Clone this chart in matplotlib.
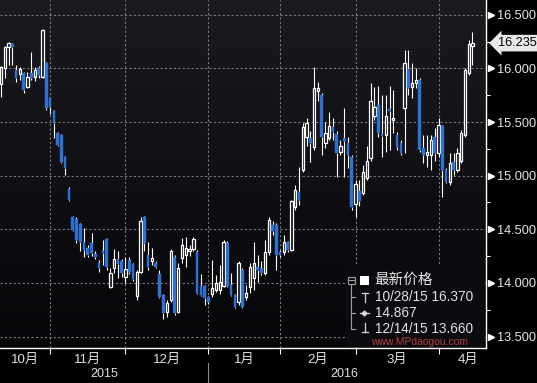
import numpy as np
import matplotlib.pyplot as plt
from matplotlib.patches import Rectangle
from matplotlib.lines import Line2D
from matplotlib.colors import LinearSegmentedColormap
from matplotlib.transforms import blended_transform_factory

# daily candles, mid Oct 2015 to mid Apr 2016 (one per trading day)
opens = [15.85, 16.00, 16.20, 16.23, 15.98, 15.95, 15.96, 15.83, 15.96, 15.92,
         16.00, 15.92, 16.05, 15.72, 15.60, 15.40, 15.38, 15.17, 14.88, 14.61,
         14.60, 14.55, 14.38, 14.33, 14.37, 14.27, 14.19, 14.30, 14.41, 13.96,
         14.14, 14.22, 14.20, 14.06, 14.21, 14.18, 13.88, 14.10, 14.61, 14.26,
         14.20, 14.19, 14.08, 13.89, 13.73, 13.84, 14.24, 13.73, 14.23, 14.26,
         14.30, 14.32, 14.29, 13.97, 13.97, 13.87, 13.90, 13.93, 13.93, 13.97,
         14.37, 13.98, 13.89, 13.82, 14.12, 13.87, 13.96, 14.05, 14.15, 14.14,
         14.09, 14.29, 14.54, 14.54, 14.29, 14.29, 14.38, 14.31, 14.71, 14.85,
         15.05, 15.36, 15.35, 15.27, 15.79, 15.75, 15.30, 15.35, 15.45, 15.39,
         15.22, 15.35, 15.30, 15.17, 14.74, 14.86, 14.84, 14.98, 15.16, 15.56,
         15.66, 15.39, 15.38, 15.62, 15.52, 15.38, 15.30, 15.63, 15.99, 15.83,
         15.86, 15.89, 15.26, 15.19, 15.19, 15.36, 15.21, 15.46, 15.05, 14.94,
         15.13, 15.05, 15.14, 15.38, 15.96, 16.21]
highs = [16.02, 16.21, 16.25, 16.24, 16.03, 16.01, 15.97, 15.97, 16.15, 16.01,
         16.02, 16.37, 16.06, 15.73, 15.61, 15.41, 15.39, 15.18, 14.89, 14.62,
         14.61, 14.56, 14.51, 14.35, 14.47, 14.30, 14.21, 14.40, 14.42, 14.14,
         14.32, 14.30, 14.22, 14.24, 14.24, 14.19, 14.12, 14.61, 14.62, 14.38,
         14.33, 14.20, 14.12, 13.90, 13.84, 14.32, 14.26, 14.19, 14.42, 14.43,
         14.35, 14.43, 14.31, 14.08, 13.98, 13.88, 14.21, 14.07, 14.17, 14.40,
         14.39, 14.09, 13.90, 14.20, 14.14, 13.98, 14.19, 14.38, 14.26, 14.20,
         14.40, 14.61, 14.58, 14.56, 14.31, 14.45, 14.39, 14.77, 14.91, 15.08,
         15.49, 15.54, 15.42, 16.01, 15.87, 15.77, 15.50, 15.59, 15.54, 15.42,
         15.33, 15.63, 15.36, 15.19, 14.96, 14.96, 15.10, 15.28, 15.86, 15.83,
         15.84, 15.75, 15.75, 15.84, 15.80, 15.41, 15.33, 16.17, 16.17, 16.05,
         16.00, 15.91, 15.38, 15.38, 15.38, 15.44, 15.54, 15.47, 15.07, 15.21,
         15.21, 15.26, 15.43, 16.00, 16.26, 16.34]
lows = [15.73, 15.91, 16.03, 16.03, 15.87, 15.89, 15.77, 15.82, 15.89, 15.88,
        15.91, 15.91, 15.61, 15.57, 15.35, 15.28, 15.12, 15.01, 14.76, 14.48,
        14.37, 14.30, 14.24, 14.24, 14.25, 14.22, 14.10, 14.17, 14.12, 13.95,
        14.09, 14.05, 14.06, 14.00, 14.08, 14.02, 13.84, 14.09, 14.30, 14.12,
        14.17, 14.14, 13.86, 13.66, 13.68, 13.82, 13.70, 13.72, 14.19, 14.15,
        14.25, 14.30, 13.90, 13.88, 13.79, 13.80, 13.87, 13.92, 13.90, 13.96,
        13.96, 13.88, 13.77, 13.79, 13.77, 13.84, 13.91, 13.93, 14.01, 14.07,
        14.07, 14.26, 14.45, 14.12, 14.24, 14.26, 14.29, 14.30, 14.68, 14.73,
        15.03, 15.28, 15.13, 15.24, 15.70, 15.19, 15.26, 15.33, 15.33, 14.99,
        15.19, 14.99, 15.07, 14.68, 14.61, 14.72, 14.82, 14.96, 15.14, 15.52,
        15.36, 15.17, 15.22, 15.24, 15.40, 15.24, 15.19, 15.21, 15.75, 15.72,
        15.82, 15.22, 15.12, 15.08, 15.05, 15.14, 15.17, 14.80, 14.93, 14.91,
        15.01, 15.03, 15.12, 15.36, 15.94, 16.03]
closes = [16.01, 16.20, 16.24, 16.20, 15.91, 15.99, 15.80, 15.92, 15.91, 15.98,
          15.94, 16.36, 15.63, 15.64, 15.49, 15.29, 15.13, 15.07, 14.77, 14.49,
          14.40, 14.38, 14.31, 14.26, 14.28, 14.24, 14.14, 14.28, 14.15, 14.09,
          14.22, 14.18, 14.09, 14.13, 14.10, 14.04, 14.10, 14.58, 14.37, 14.15,
          14.23, 14.15, 13.87, 13.72, 13.81, 14.30, 13.72, 14.14, 14.35, 14.33,
          14.32, 14.41, 13.91, 13.89, 13.86, 13.82, 13.95, 14.00, 14.01, 14.38,
          13.97, 13.89, 13.78, 14.19, 13.78, 13.91, 14.15, 14.19, 14.12, 14.09,
          14.29, 14.59, 14.48, 14.26, 14.26, 14.38, 14.31, 14.76, 14.87, 14.77,
          15.45, 15.49, 15.30, 15.82, 15.82, 15.36, 15.40, 15.46, 15.41, 15.21,
          15.28, 15.32, 15.19, 14.71, 14.92, 14.76, 15.03, 15.14, 15.70, 15.64,
          15.40, 15.37, 15.56, 15.60, 15.54, 15.27, 15.21, 16.05, 15.82, 15.86,
          15.89, 15.24, 15.19, 15.22, 15.33, 15.21, 15.47, 15.05, 14.94, 15.12,
          15.05, 15.21, 15.40, 15.98, 16.23, 16.235]

# index of the first trading day of each month (Nov .. Apr)
month_first = [13, 33, 55, 74, 94, 116]
month_names = ['10月', '11月', '12月', '1月', '2月', '3月', '4月']
year_names = ['2015', '2016']
price_levels = [13.5, 14.0, 14.5, 15.0, 15.5, 16.0, 16.5]
minor_levels = [13.75, 14.25, 14.75, 15.25, 15.75, 16.25]
last_price = 16.235
legend_title = '最新价格'
legend_high = '10/28/15 16.370'
legend_avg = '14.867'
legend_low = '12/14/15 13.660'

plt.rcParams['font.family'] = ['Liberation Sans', 'Noto Sans CJK SC', 'DejaVu Sans']

W, H = 537, 383
fig = plt.figure(figsize=(W / 100, H / 100), dpi=100, facecolor='black')
ax = fig.add_axes([0, 1 - 348.3 / H, 485.7 / W, 348.3 / H])

xmin, xmax = -0.27, 128.5
ymin, ymax = 13.391, 16.637

# dark gradient background
bg = LinearSegmentedColormap.from_list('bg', ['#060609', '#1a1a20'])
grad = np.linspace(0, 1, 256).reshape(-1, 1)
ax.imshow(grad, extent=[xmin, xmax, ymin, ymax], aspect='auto', cmap=bg,
          origin='lower', zorder=0)

# dashed grid
ax.hlines(price_levels, xmin, xmax, colors='#7a7a7a', linestyles=(0, (2, 2)),
          lw=0.8, zorder=1)
ax.vlines(month_first, ymin, ymax, colors='#7a7a7a', linestyles=(0, (2, 2)),
          lw=0.8, zorder=1)

# candles
o = np.array(opens)
h = np.array(highs)
l = np.array(lows)
c = np.array(closes)
x = np.arange(len(o))
top = np.maximum(o, c)
bot = np.minimum(o, c)
up = c >= o
ax.vlines(x, top, h, color='white', lw=0.8, zorder=2)
ax.vlines(x, l, bot, color='white', lw=0.8, zorder=2)
body = np.maximum(top - bot, 0.012)
ax.bar(x[up], body[up], bottom=bot[up], width=0.62, color='#131318',
       edgecolor='white', linewidth=0.9, zorder=3)
ax.bar(x[~up], body[~up], bottom=bot[~up], width=0.7, color='#2f72d4',
       edgecolor='#2f72d4', linewidth=0.3, zorder=3)

ax.set_xlim(xmin, xmax)
ax.set_ylim(ymin, ymax)

for side in ['left', 'top']:
    ax.spines[side].set_visible(False)
for side in ['right', 'bottom']:
    ax.spines[side].set_color('white')
    ax.spines[side].set_linewidth(1)

# right price axis
ax.yaxis.tick_right()
ax.set_yticks(price_levels)
ax.set_yticklabels([f'{v:.3f}' for v in price_levels])
ax.set_yticks(minor_levels, minor=True)
ax.tick_params(axis='y', which='major', length=0, pad=8, labelsize=9.2,
               labelcolor='#e6e6e6')
ax.tick_params(axis='y', which='minor', length=3, width=0.8, color='white')
ax.tick_params(axis='x', length=4, width=0.8, color='white', labelbottom=False)
ax.set_xticks(month_first)

ty = blended_transform_factory(ax.transAxes, ax.transData)
ax.plot([1.0099] * len(price_levels), price_levels, transform=ty, marker='>',
        ms=4.5, color='white', ls='none', clip_on=False)

ax.text(498 / 485.7, last_price, f'{last_price:.3f}', transform=ty,
        ha='left', va='center', fontsize=9.2, color='black',
        bbox=dict(boxstyle='larrow,pad=0.18', fc='#e8e8e8', ec='none'))

# month and year labels under the axis
tx = blended_transform_factory(ax.transData, ax.transAxes)
edges = [-0.3] + month_first + [131.5]
for i, name in enumerate(month_names):
    ax.text((edges[i] + edges[i + 1]) / 2, -0.033, name, transform=tx,
            ha='center', va='center', fontsize=9.5, color='#e0e0e0')
year_edges = [-0.3, month_first[2], 127]
for i, name in enumerate(year_names):
    ax.text((year_edges[i] + year_edges[i + 1]) / 2, -0.073, name, transform=tx,
            ha='center', va='center', fontsize=9, color='#e0e0e0')
ax.add_line(Line2D([month_first[2]] * 2, [-0.043, -0.1], transform=tx,
                   color='#8a8a8a', lw=0.8, clip_on=False))


# legend box, drawn in figure pixels (origin top left)
def px(xp, yp):
    return xp / W, 1 - yp / H


tf = fig.transFigure
fig.patches.append(Rectangle(px(346, 347), 139 / W, 81 / H, transform=tf,
                             fc='#0c0c10', ec='none', zorder=1))
fig.patches.append(Rectangle(px(347.5, 283.5), 7 / W, 7 / H, transform=tf,
                             fc='none', ec='#a0a0a0', lw=0.8, zorder=2))
grey = '#a0a0a0'
segs = [((348.5, 280), (353.5, 280)), ((351, 283.5), (351, 329)),
        ((351, 297), (355, 297)), ((351, 313), (355, 313)),
        ((351, 329), (355, 329))]
for a, b in segs:
    fig.lines.append(Line2D([px(*a)[0], px(*b)[0]], [px(*a)[1], px(*b)[1]],
                            transform=tf, color=grey, lw=0.8, zorder=2))
fig.patches.append(Rectangle(px(360, 284.5), 8.5 / W, 8.5 / H, transform=tf,
                             fc='white', ec='none', zorder=2))
wsegs = [((361.5, 293), (367.5, 293)), ((364.5, 293), (364.5, 302)),
         ((360, 313), (368.5, 313)),
         ((364.5, 323), (364.5, 332)), ((361.5, 332), (367.5, 332))]
for a, b in wsegs:
    fig.lines.append(Line2D([px(*a)[0], px(*b)[0]], [px(*a)[1], px(*b)[1]],
                            transform=tf, color='#d8d8d8', lw=0.9, zorder=2))
fig.lines.append(Line2D([px(364.2, 313)[0]], [px(364.2, 313)[1]], transform=tf,
                        marker='D', ms=2.5, color='#d8d8d8', zorder=2))

fig.text(*px(374, 280), legend_title, ha='left', va='center', fontsize=10.5,
         color='#e6e6e6', zorder=3)
for yy, s in [(297, legend_high), (313, legend_avg), (329, legend_low)]:
    fig.text(*px(375, yy), s, ha='left', va='center', fontsize=9.8,
             color='#e0e0e0', zorder=3)

# site watermark, kept just above the axis line
fig.text(*px(420, 342), 'www.MPdaogou.com', ha='center', va='center',
         fontsize=7.5, color='#d04a40', alpha=0.85, zorder=4)

plt.savefig('out.png', dpi=100, facecolor='black')
